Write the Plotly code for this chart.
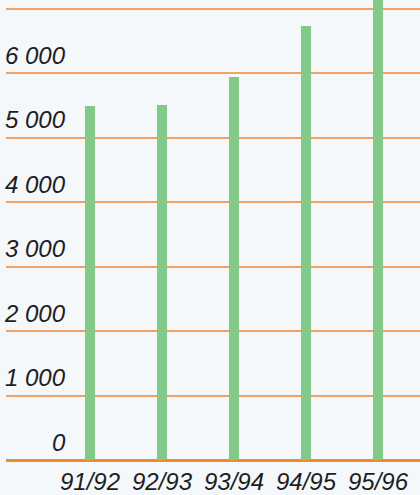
import plotly.graph_objects as go

categories = ["91/92", "92/93", "93/94", "94/95", "95/96"]
values = [5490, 5500, 5940, 6730, 7300]
tick_values = [0, 1000, 2000, 3000, 4000, 5000, 6000, 7000]
tick_labels = ["0", "1 000", "2 000", "3 000", "4 000", "5 000", "6 000", ""]

FONT = dict(family="Liberation Sans, Arial, Helvetica, sans-serif", size=24, color="#1e1e1e", style="italic")

fig = go.Figure()
fig.add_trace(go.Bar(
    x=list(range(len(categories))), y=values,
    width=0.14, marker=dict(color="#82c98a", line=dict(width=0)),
))

for v, t in zip(tick_values, tick_labels):
    if not t:
        continue
    fig.add_annotation(
        x=-0.31, y=v, xref="x", yref="y", text=t, showarrow=False,
        xanchor="right", yanchor="middle", yshift=18, font=FONT,
    )

fig.update_layout(
    width=420, height=495,
    margin=dict(l=6, r=0, t=0, b=35, autoexpand=False),
    paper_bgcolor="#f4f8fb", plot_bgcolor="#f4f8fb",
    showlegend=False,
    bargap=0,
    xaxis=dict(
        range=[-1.167, 4.583], tickmode="array",
        tickvals=list(range(len(categories))), ticktext=categories,
        showgrid=False, zeroline=False, showline=False, ticks="",
        tickfont=FONT, ticklabelstandoff=5, automargin=False,
    ),
    yaxis=dict(
        range=[0, 7132], tickvals=tick_values, showticklabels=False,
        showgrid=True, gridcolor="#f2a468", gridwidth=1.5,
        zeroline=True, zerolinecolor="#f08a2c", zerolinewidth=2.5,
        ticks="", automargin=False,
    ),
)

fig.write_html(
    "out.html",
    config={"displayModeBar": False},
    post_script="document.body.style.margin='0px';document.body.style.overflow='hidden';",
)
